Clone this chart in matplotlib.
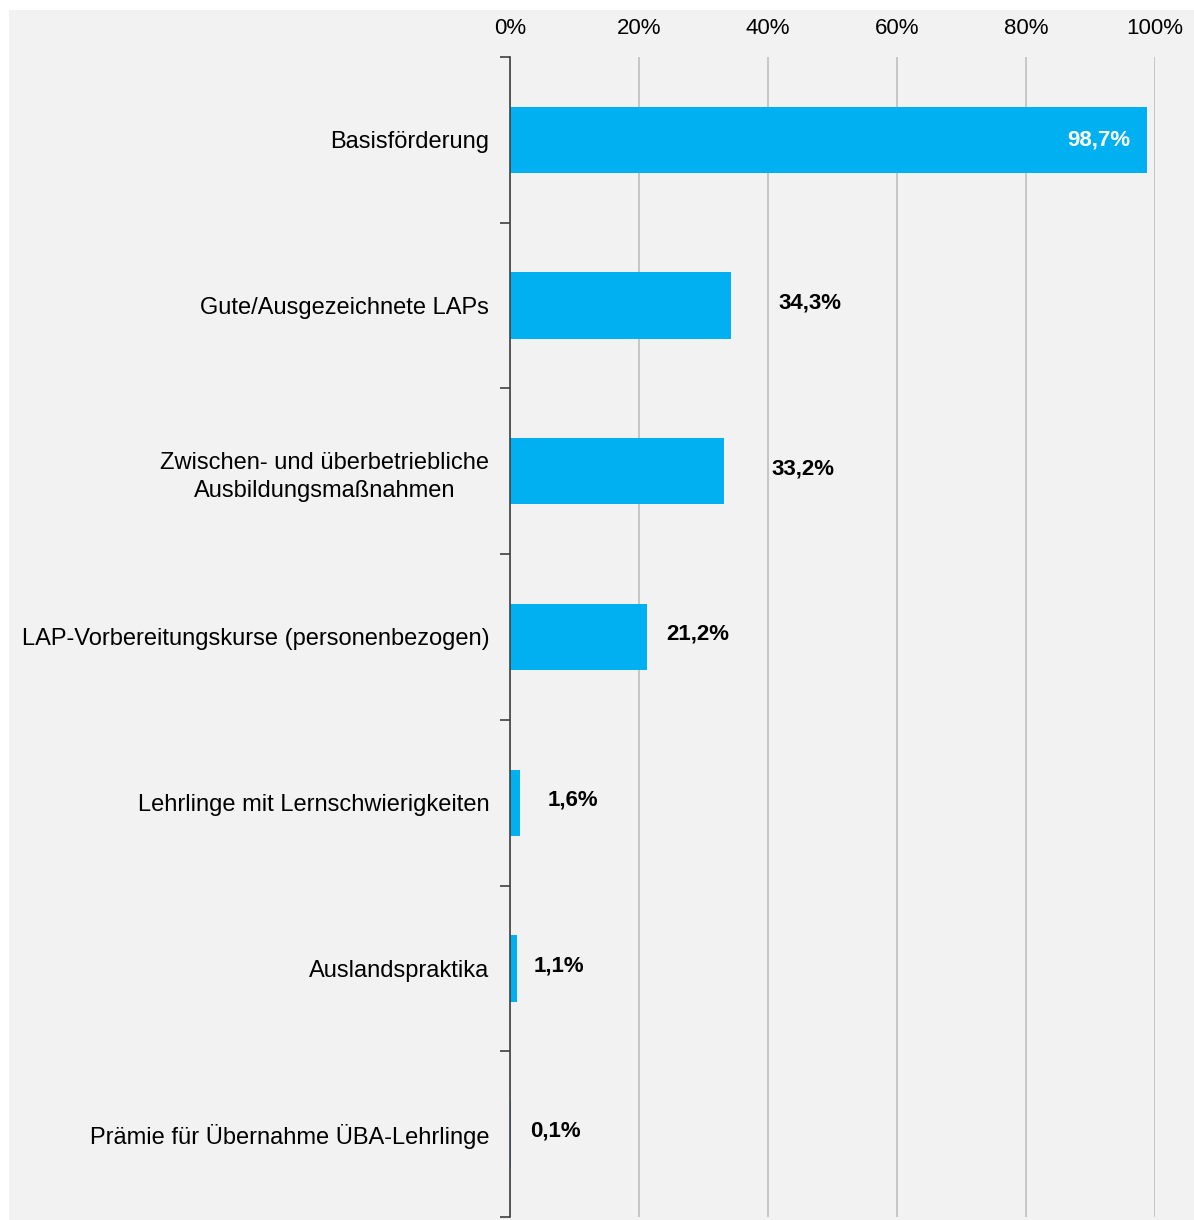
import numpy as np
import matplotlib
matplotlib.use("Agg")
import matplotlib.pyplot as plt
from matplotlib.patches import Rectangle
from matplotlib.ticker import FixedLocator, PercentFormatter

plt.rcParams["font.family"] = ["Liberation Sans", "DejaVu Sans"]

categories = [
    "Basisförderung",
    "Gute/Ausgezeichnete LAPs",
    "Zwischen- und überbetriebliche\nAusbildungsmaßnahmen",
    "LAP-Vorbereitungskurse (personenbezogen)",
    "Lehrlinge mit Lernschwierigkeiten",
    "Auslandspraktika",
    "Prämie für Übernahme ÜBA-Lehrlinge",
]
values = [98.7, 34.3, 33.2, 21.2, 1.6, 1.1, 0.1]
x_ticks = [0, 20, 40, 60, 80, 100]

# horizontal offset of the outside labels, in points
label_offsets = [0, 34, 34, 14, 20, 12, 14]

bar_color = "#00b0f0"
bg_color = "#f2f2f2"

fig = plt.figure(figsize=(11.94, 12.20), dpi=100)
fig.patch.set_facecolor("white")
fig.patches.append(Rectangle((9 / 1194, 0), 1, 1 - 10 / 1220,
                             transform=fig.transFigure, facecolor=bg_color,
                             edgecolor="none", zorder=-10))

ax = fig.add_axes([510 / 1194, 3 / 1220, 645 / 1194, 1160 / 1220])
ax.set_facecolor(bg_color)

y = np.arange(len(categories))
ax.barh(y, values, height=0.4, color=bar_color, zorder=3)

ax.set_xlim(0, 100)
ax.set_ylim(len(categories) - 0.5, -0.5)

ax.xaxis.tick_top()
ax.set_xticks(x_ticks)
ax.xaxis.set_major_formatter(PercentFormatter(decimals=0))
ax.tick_params(axis="x", length=0, labelsize=16, pad=13, colors="black")
ax.grid(axis="x", color="#bfbfbf", linewidth=1.2, zorder=1)

ax.set_yticks(y)
ax.set_yticklabels(categories, fontsize=17, multialignment="center",
                   linespacing=1.35)
ax.tick_params(axis="y", which="major", length=0, pad=15)
ax.yaxis.set_minor_locator(FixedLocator(np.arange(-0.5, len(categories), 1)))
ax.tick_params(axis="y", which="minor", length=7, width=1.2, color="#404040")

for side in ["top", "right", "bottom"]:
    ax.spines[side].set_visible(False)
ax.spines["left"].set_color("#404040")
ax.spines["left"].set_linewidth(1.2)
ax.spines["left"].set_zorder(4)

for i, v in enumerate(values):
    text = f"{v:.1f}%".replace(".", ",")
    if v > 90:
        ax.annotate(text, (v, i), xytext=(-12, 0), textcoords="offset points",
                    ha="right", va="center", fontsize=16, fontweight="bold",
                    color="white", zorder=5)
    else:
        ax.annotate(text, (v, i), xytext=(label_offsets[i], 2),
                    textcoords="offset points", ha="left", va="center",
                    fontsize=16, fontweight="bold", color="black", zorder=5)

fig.savefig("out.png", dpi=100, facecolor=fig.get_facecolor())
